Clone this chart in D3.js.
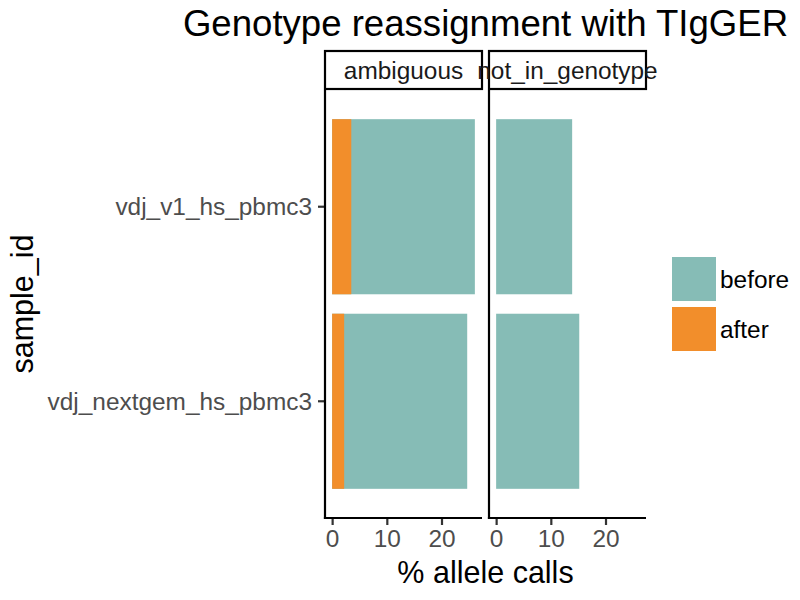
<!DOCTYPE html>
<html>
	<head>
		<meta charset="utf-8">
		<style>
			body { margin: 0; background: #fff; }
			svg { display: block; font-family: "Liberation Sans", Arial, sans-serif; }
		</style>
		<title>Genotype reassignment with TIgGER</title>
	</head>
	<body>
		<script src="https://cdn.jsdelivr.net/npm/d3@7"></script>
		<script>

		// data
		var samples = ["vdj_v1_hs_pbmc3", "vdj_nextgem_hs_pbmc3"];
		var facets = ["ambiguous", "not_in_genotype"];
		var stages = ["before", "after"];
		// % allele calls per facet, in sample order
		var before = { ambiguous: [26.1, 24.7], not_in_genotype: [13.9, 15.2] };
		var after  = { ambiguous: [3.5, 2.2],  not_in_genotype: [0, 0] };
		var xTicks = [0, 10, 20];
		var colors = { before: "#86BCB6", after: "#F28E2B" };

		var width = 800, height = 600;
		var panelTop = 90, panelBottom = 518, stripTop = 51;
		var panelLefts = [325, 489], panelW = 157;
		var small = "24.4px", mid = "30.5px", big = "36.6px";

		var svg = d3.select("body").append("svg")
			.attr("width", width)
			.attr("height", height);

		var maxV = d3.max(facets, function(f){ return d3.max(before[f].map(function(v,i){ return Math.max(v, after[f][i]); })); });

		var x = d3.scaleLinear()
			.domain([-0.05*maxV, 1.05*maxV])
			.range([0, panelW]);

		var y = d3.scaleBand()
			.domain(samples)
			.range([panelTop, panelBottom])
			.paddingInner(0.1)
			.paddingOuter(0.15);

		facets.forEach(function(f, fi){
			var g = svg.append("g")
				.attr("transform", "translate(" + panelLefts[fi] + ",0)");

			// bars: before first, after drawn over it
			stages.forEach(function(s){
				var vals = s == "before" ? before[f] : after[f];
				g.selectAll("rect." + s)
					.data(samples.filter(function(d,i){ return vals[i] > 0; }))
					.enter().append("rect")
					.attr("class", s)
					.attr("x", x(0))
					.attr("y", function(d){ return y(d); })
					.attr("width", function(d){ return x(vals[samples.indexOf(d)]) - x(0); })
					.attr("height", y.bandwidth())
					.attr("fill", colors[s]);
			});

			// x axis
			var ax = g.append("g")
				.attr("transform", "translate(0," + panelBottom + ")")
				.call(d3.axisBottom(x).tickValues(xTicks).tickSize(7).tickPadding(5).tickFormat(d3.format("d")));
			ax.select(".domain").remove();
			ax.selectAll(".tick line").attr("stroke", "#333").attr("stroke-width", 2.2);
			ax.selectAll(".tick text").attr("fill", "#4D4D4D").style("font-size", small)
				.attr("font-family", "Liberation Sans, Arial, sans-serif");

			// y axis only on the first panel
			if(fi == 0){
				var ay = g.append("g")
					.call(d3.axisLeft(y).tickSize(7).tickPadding(6));
				ay.select(".domain").remove();
				ay.selectAll(".tick line").attr("stroke", "#333").attr("stroke-width", 2.2);
				ay.selectAll(".tick text").attr("fill", "#4D4D4D").style("font-size", small)
					.attr("font-family", "Liberation Sans, Arial, sans-serif")
					.attr("dy", "0.35em");
			}

			// axis lines
			g.append("line").attr("x1", 0).attr("x2", 0).attr("y1", panelTop).attr("y2", panelBottom + 1.1)
				.attr("stroke", "#000").attr("stroke-width", 2.2);
			g.append("line").attr("x1", -1.1).attr("x2", panelW).attr("y1", panelBottom).attr("y2", panelBottom)
				.attr("stroke", "#000").attr("stroke-width", 2.2);

			// strip
			g.append("rect")
				.attr("x", 0).attr("y", stripTop)
				.attr("width", panelW).attr("height", panelTop - stripTop - 1)
				.attr("fill", "#fff").attr("stroke", "#000").attr("stroke-width", 2.2);
		});

		// strip labels on top so the long one runs over the neighbour box
		facets.forEach(function(f, fi){
			svg.append("text")
				.attr("x", panelLefts[fi] + panelW/2)
				.attr("y", (stripTop + panelTop)/2)
				.attr("dy", "0.35em")
				.attr("text-anchor", "middle")
				.style("font-size", small)
				.attr("fill", "#1A1A1A")
				.text(f);
		});

		var midX = (panelLefts[0] + panelLefts[1] + panelW)/2;

		svg.append("text")
			.attr("x", midX).attr("y", 36)
			.attr("text-anchor", "middle")
			.style("font-size", big)
			.text("Genotype reassignment with TIgGER");

		svg.append("text")
			.attr("x", midX).attr("y", 583)
			.attr("text-anchor", "middle")
			.style("font-size", mid)
			.text("% allele calls");

		svg.append("text")
			.attr("transform", "translate(33," + (panelTop + panelBottom)/2 + ") rotate(-90)")
			.attr("text-anchor", "middle")
			.style("font-size", mid)
			.text("sample_id");

		// legend
		var leg = svg.append("g").attr("transform", "translate(672,257)");
		var items = leg.selectAll("g").data(stages).enter().append("g")
			.attr("transform", function(d,i){ return "translate(0," + (i*50) + ")"; });
		items.append("rect")
			.attr("width", 44).attr("height", 44)
			.attr("fill", function(d){ return colors[d]; });
		items.append("text")
			.attr("x", 48).attr("y", 22)
			.attr("dy", "0.35em")
			.style("font-size", small)
			.text(function(d){ return d; });

		</script>
	</body>
</html>
